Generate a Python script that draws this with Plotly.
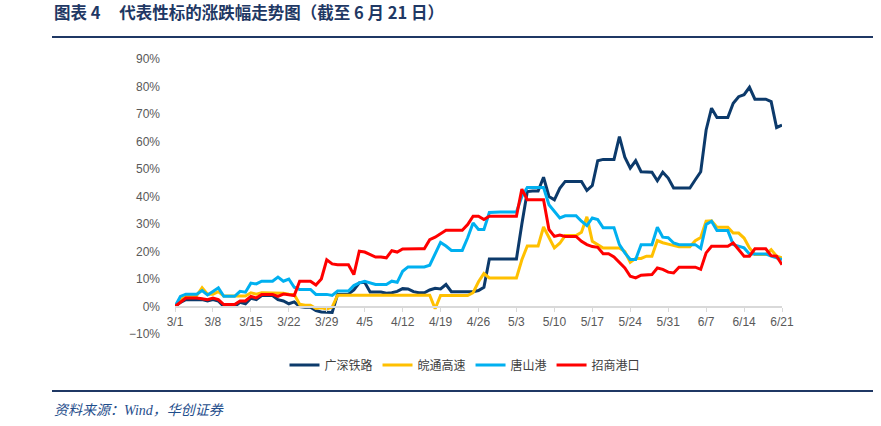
import pandas as pd
import plotly.graph_objects as go

start_date = "2021-03-01"
tick_labels = ["3/1", "3/8", "3/15", "3/22", "3/29", "4/5", "4/12", "4/19", "4/26",
               "5/3", "5/10", "5/17", "5/24", "5/31", "6/7", "6/14", "6/21"]

series_names = ["广深铁路", "皖通高速", "唐山港", "招商港口"]

gsrl = [0, 1.5, 2.5, 2.5, 2.5, 2.5, 2, 2.5, 2, 0,
        0, 0, 1.5, 1, 3, 2.5, 4, 4, 4, 2.5,
        2, 1, 1.7, 0, -0.3, -0.3, -1.5, -2, -2, -2.2,
        4.4, 4.5, 4.5, 6, 8.6, 8.8, 5.3, 5.3, 5.3, 4.8,
        5, 5.5, 6.5, 6.4, 5.4, 5, 5, 6, 6.6, 6.4,
        8, 5.4, 5.4, 5.4, 5.4, 5.4, 5.8, 7, 17.3, 17.3,
        17.3, 17.3, 17.3, 17.3, 30, 41.8, 42, 42, 47, 40,
        38.8, 43, 45.5, 45.5, 45.5, 45.5, 42.2, 44, 53, 53.5,
        53.5, 53.5, 61.8, 54.3, 50.3, 53, 49, 48.8, 48.8, 45.7,
        48.8, 46.7, 43.1, 43.1, 43.1, 43.1, 46.1, 49, 64.2, 72.1,
        68.7, 68.7, 68.7, 73.9, 76.3, 77, 79.7, 75.4, 75.4, 75.4,
        74.5, 65.1, 66]

wtgs = [0, 2.5, 3.7, 4, 4, 6.8, 4.5, 4.5, 5.4, 3.8,
        3.8, 3.8, 3.8, 3.8, 5, 4.5, 5, 5, 5, 5,
        4.8, 4.5, 4.4, 0.8, 0.5, 0.5, -0.7, -0.5, -0.9, -0.2,
        4.1, 4.1, 4.1, 4.1, 4.1, 4.1, 4.1, 4.1, 4.1, 4.1,
        4.1, 4.1, 4.1, 4.1, 4.1, 4.1, 4.1, 4.1, -0.8, 4,
        4, 4, 4, 4, 4, 5, 9, 12, 10.4, 10.4,
        10.4, 10.4, 10.4, 10.4, 17, 22, 22, 22, 28.9, 24.9,
        21.3, 23, 25.8, 25.8, 25.8, 27, 32.6, 23.7, 22.5, 21.3,
        21.3, 21.3, 21.3, 20, 16.1, 17.5, 17.5, 18.3, 18.3, 24,
        23.2, 22.7, 22.1, 21.7, 21.7, 21.7, 23.9, 25.1, 31, 31.2,
        28.8, 28.8, 28.8, 26.7, 26.7, 24.9, 21.3, 18.9, 18.9, 18.9,
        20.7, 18.3, 17.7]

tsg = [0, 3.7, 4.5, 4.5, 4.5, 5.8, 4.2, 5.5, 6.8, 3.7,
       3.7, 3.7, 5.5, 5.2, 8.5, 8.2, 9.2, 9.2, 9.2, 10.7,
       9.2, 10, 7, 6.2, 6.2, 6.2, 4.4, 4.4, 4.4, 4,
       5.6, 5.6, 5.6, 7.6, 8.6, 9.2, 8.5, 8, 8, 8,
       9.2, 8.8, 12.8, 14.4, 14.4, 14.4, 14.4, 15, 19, 23.3,
       22, 20.4, 20.4, 20.4, 25, 30.4, 28, 28, 34.2, 34.4,
       34.4, 34.4, 34.4, 34.4, 40, 43.3, 43.3, 43.3, 43.3, 37,
       34.6, 32.2, 33, 33, 33, 31, 29.4, 32.2, 31.6, 28.6,
       28.6, 28.6, 22.5, 19.5, 17.1, 17.1, 22.5, 22.5, 22.5, 28.8,
       25.2, 25, 23.1, 22.5, 22.5, 22.5, 22.5, 21.1, 29.8, 31,
       27.6, 27.6, 27.6, 22.5, 21.9, 21.3, 19.1, 19.1, 19.1, 19.1,
       18.3, 17.7, 17.1]

zsgk = [0, 1.5, 3.1, 3.1, 3.1, 2.8, 2.5, 3.1, 2.5, 0.7,
        0.7, 0.7, 2, 2, 3.7, 3.1, 4.4, 4.4, 4.4, 3.7,
        4.5, 4.3, 4, 9.2, 9.2, 9.2, 7.8, 10, 17, 15.5,
        15.2, 15.2, 15.2, 11.6, 20.1, 19.8, 18.8, 18, 18, 17.7,
        20.3, 19.8, 20.9, 21, 21, 21, 21, 24.3, 25.2, 26.5,
        27.7, 27.7, 27.7, 27.7, 29.8, 32.8, 32.8, 31.6, 32.8, 32.8,
        32.8, 32.8, 32.8, 32.8, 42.7, 38.8, 38.8, 38.8, 38.8, 28,
        25.5, 26, 25.5, 25.5, 25.5, 23.7, 22.5, 21.8, 21.5, 19.2,
        19.2, 18, 16, 14, 11, 10.4, 11.4, 11.6, 11.6, 14,
        13.5, 12.5, 12.2, 14.3, 14.3, 14.3, 14.3, 13.5, 19.5, 21.9,
        21.9, 21.9, 21.9, 23.1, 20.7, 18.3, 18.3, 21, 21, 21,
        18.5, 18.3, 15.2]

colors = ["#0C3A6B", "#FFC000", "#00B0F0", "#FF0000"]
values = [gsrl, wtgs, tsg, zsgk]

dates = pd.date_range(start_date, periods=len(gsrl), freq="D")
tick_vals = dates[::7]

fig = go.Figure()
for name, vals, c in zip(series_names, values, colors):
    fig.add_trace(go.Scatter(x=dates, y=vals, mode="lines", name=name,
                             line=dict(color=c, width=3)))

# page body margin is removed by a post script, so screen px == figure px
W, H = 881, 426
L, T = 175, 59
R = W - 782
B = H - 334
PW, PH = W - L - R, H - T - B

def px_x(p):
    return (p - L) / PW

def px_y(p):
    return (H - B - p) / PH

fig.update_layout(
    width=W, height=H,
    margin=dict(l=L, r=R, t=T, b=B, autoexpand=False),
    paper_bgcolor="white", plot_bgcolor="white",
    font=dict(family="Liberation Sans, Arial, sans-serif", size=12, color="#595959"),
    showlegend=True,
    legend=dict(orientation="h", x=px_x(465), xanchor="center", y=px_y(365), yanchor="middle",
                font=dict(family="Noto Sans CJK SC", size=12, color="#404040"),
                itemwidth=30, tracegroupgap=0),
    xaxis=dict(range=[dates[0], dates[-1]], tickvals=tick_vals, ticktext=tick_labels,
               showgrid=False, zeroline=False, showline=True, linecolor="#D9D9D9",
               linewidth=2, ticks="outside", ticklen=4, tickcolor="#D9D9D9",
               anchor="free", position=0.1,
               tickfont=dict(size=12, color="#595959")),
    yaxis=dict(range=[-10, 90], dtick=10, ticksuffix="%", showgrid=False,
               zeroline=False, showline=False, ticks="", ticklabelstandoff=14,
               tickfont=dict(size=12, color="#595959")),
)

title_color = "#1F3864"
fig.add_annotation(xref="paper", yref="paper", x=px_x(52), y=px_y(12),
                   xanchor="left", yanchor="middle",
                   text="<b>图表 4     代表性标的涨跌幅走势图（截至 6 月 21 日）</b>",
                   showarrow=False,
                   font=dict(family="Noto Sans CJK SC", size=16.5, color=title_color))
fig.add_annotation(xref="paper", yref="paper", x=px_x(52), y=px_y(410),
                   xanchor="left", yanchor="middle",
                   text="<i>资料来源：Wind，华创证券</i>", showarrow=False,
                   font=dict(family="Liberation Serif, Noto Sans CJK SC", size=14,
                             color="#1F4E8C"))

for yy in (37, 391):
    fig.add_shape(type="line", xref="paper", yref="paper",
                  x0=px_x(52), x1=px_x(873), y0=px_y(yy), y1=px_y(yy),
                  line=dict(color=title_color, width=2))

fig.write_html("out.html", config={"displayModeBar": False},
               post_script="document.body.style.margin='0';document.body.style.overflow='hidden';")
